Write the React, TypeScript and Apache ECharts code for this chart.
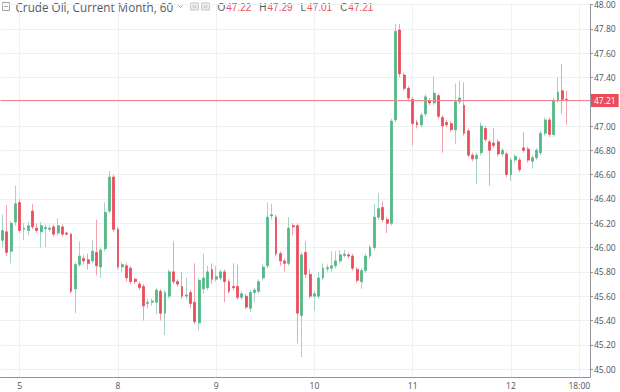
import React, { useEffect, useRef } from 'react';
import * as echarts from 'echarts';

// Hourly candles (open, close, low, high)
const opens = [
  46.06, 46.13, 45.97, 46.21, 46.37, 46.15, 46.14, 46.30, 46.16, 46.13,
  46.155, 46.15, 46.17, 46.12, 46.17, 46.12, 46.11, 45.66, 45.86, 45.91,
  45.90, 45.89, 45.96, 45.84, 45.99, 46.30, 46.58, 46.15, 45.84, 45.85,
  45.83, 45.74, 45.70, 45.68,
  45.54, 45.55, 45.55, 45.64, 45.46, 45.60, 45.80, 45.72, 45.68, 45.60,
  45.63, 45.55, 45.38, 45.66, 45.67, 45.82, 45.74, 45.75, 45.80, 45.72,
  45.68, 45.68, 45.59, 45.60, 45.50, 45.63, 45.64, 45.75, 45.85, 46.26,
  46.25, 45.95, 45.89,
  45.87, 46.18, 46.18, 45.44, 45.96, 45.78, 45.60, 45.60, 45.75, 45.825,
  45.83, 45.85, 45.89, 45.935, 45.94, 45.93, 45.82, 45.72, 45.81, 45.93,
  46.00, 46.25, 46.33, 46.23, 46.20, 47.05, 47.79, 47.42, 47.31, 47.22,
  47.03, 47.01,
  47.10, 47.21, 47.19, 47.25, 47.07, 47.03, 47.02, 46.97, 47.20, 47.17,
  46.96, 46.76, 46.73, 46.78, 46.98, 46.87, 46.86, 46.87, 46.77, 46.77,
  46.60, 46.72, 46.72, 46.82, 46.81, 46.71, 46.74, 46.78, 46.94, 47.05,
  46.93, 47.21, 47.29, 47.22,
];
const closes = [
  46.14, 45.96, 46.20, 46.36, 46.14, 46.16, 46.18, 46.17, 46.14, 46.18,
  46.165, 46.16, 46.11, 46.18, 46.11, 46.11, 45.64, 45.86, 45.93, 45.89,
  45.87, 45.97, 45.85, 45.98, 46.29, 46.58, 46.15, 45.84, 45.86, 45.75,
  45.72, 45.72, 45.67, 45.52,
  45.55, 45.56, 45.65, 45.46, 45.63, 45.80, 45.72, 45.70, 45.60, 45.61,
  45.54, 45.39, 45.73, 45.75, 45.80, 45.74, 45.76, 45.80, 45.72, 45.64,
  45.67, 45.59, 45.62, 45.51, 45.63, 45.65, 45.72, 45.84, 46.25, 46.27,
  45.95, 45.89, 45.87,
  46.16, 46.17, 45.46, 45.94, 45.78, 45.60, 45.62, 45.75, 45.83, 45.835,
  45.85, 45.89, 45.94, 45.945, 45.93, 45.83, 45.73, 45.81, 45.93, 46.00,
  46.25, 46.32, 46.23, 46.20, 47.04, 47.78, 47.43, 47.31, 47.23, 47.02,
  47.01, 47.09,
  47.24, 47.19, 47.27, 47.08, 47.00, 47.01, 46.97, 47.20, 47.23, 46.94,
  46.76, 46.73, 46.76, 47.00, 46.89, 46.80, 46.84, 46.77, 46.80, 46.60,
  46.72, 46.75, 46.64, 46.80, 46.72, 46.74, 46.80, 46.94, 47.05, 46.93,
  47.21, 47.28, 47.22, 47.21,
];
const lows = [
  46.00, 45.93, 45.87, 46.18, 46.12, 46.06, 46.10, 46.15, 46.12, 46.00,
  46.00, 46.13, 46.09, 46.10, 46.09, 46.10, 45.62, 45.46, 45.84, 45.86,
  45.82, 45.87, 45.77, 45.75, 45.97, 46.28, 46.13, 45.82, 45.80, 45.72,
  45.70, 45.70, 45.65, 45.40,
  45.50, 45.52, 45.45, 45.40, 45.28, 45.58, 45.70, 45.68, 45.58, 45.57,
  45.50, 45.37, 45.32, 45.62, 45.65, 45.70, 45.72, 45.73, 45.55, 45.62,
  45.65, 45.57, 45.57, 45.49, 45.47, 45.55, 45.62, 45.73, 45.83, 46.23,
  45.93, 45.85, 45.80,
  45.85, 46.10, 45.21, 45.10, 45.75, 45.58, 45.48, 45.58, 45.73, 45.80,
  45.80, 45.83, 45.87, 45.92, 45.91, 45.81, 45.71, 45.66, 45.79, 45.91,
  45.98, 46.23, 46.21, 46.12, 46.18, 47.03, 47.40, 47.29, 47.21, 46.84,
  46.98, 46.99,
  47.08, 47.17, 47.17, 47.06, 46.78, 46.99, 46.95, 46.85, 47.18, 46.92,
  46.74, 46.71, 46.52, 46.76, 46.87, 46.51, 46.82, 46.75, 46.75, 46.58,
  46.55, 46.70, 46.62, 46.78, 46.70, 46.65, 46.72, 46.76, 46.92, 46.91,
  46.91, 47.19, 47.10, 47.01,
];
const highs = [
  46.27, 46.35, 46.22, 46.51, 46.40, 46.20, 46.21, 46.36, 46.20, 46.21,
  46.19, 46.18, 46.19, 46.24, 46.19, 46.13, 46.12, 45.88, 46.05, 45.94,
  45.95, 46.06, 46.23, 46.00, 46.37, 46.63, 46.60, 46.17, 45.88, 45.87,
  45.85, 45.75, 45.72, 45.70,
  45.58, 45.58, 45.67, 45.66, 45.65, 45.82, 46.05, 45.74, 45.80, 45.75,
  45.65, 45.87, 45.75, 45.95, 45.85, 45.87, 45.85, 45.82, 45.82, 45.74,
  45.87, 45.86, 45.64, 45.62, 45.65, 45.67, 45.74, 45.86, 46.37, 46.36,
  46.27, 45.97, 45.91,
  46.25, 46.20, 46.20, 45.96, 46.05, 45.82, 45.64, 45.80, 45.87, 45.86,
  45.97, 45.97, 45.98, 45.98, 45.96, 45.95, 45.84, 45.83, 45.95, 46.02,
  46.36, 46.45, 46.38, 46.25, 47.06, 47.84, 47.84, 47.44, 47.33, 47.24,
  47.05, 47.11,
  47.26, 47.23, 47.41, 47.27, 47.09, 47.05, 47.04, 47.35, 47.37, 47.36,
  46.98, 46.78, 46.78, 47.03, 47.00, 46.89, 46.98, 46.89, 46.82, 46.79,
  46.74, 46.77, 46.74, 46.95, 46.83, 46.76, 46.82, 46.96, 47.07, 47.07,
  47.23, 47.40, 47.51, 47.29,
];

// Hourly slots on the time axis (candles fill the first ones)
const slotCount = 138;
const dayTickIndex = [4, 27, 50, 73, 96, 119, 135];
const dayTickLabels = ['5', '8', '9', '10', '11', '12', '18:00'];

const symbolName = 'Crude Oil, Current Month, 60';

const UP = '#53b987';
const DOWN = '#eb4d5c';
const UP_WICK = '#a6d3c6';
const DOWN_WICK = '#f3a3ab';
const GRID = '#eef1f4';
const AXIS = '#8f959c';
const LABEL = '#4c525e';

export default function App() {
  const ref = useRef<HTMLDivElement>(null);

  useEffect(() => {
    const chart = echarts.init(ref.current!, null, { renderer: 'svg' });
    const categories = Array.from({ length: slotCount }, (_, i) => String(i));
    const full = opens.map((o, i) => [o, closes[i], lows[i], highs[i]]);
    const bodies = opens.map((o, i) => [o, closes[i], Math.min(o, closes[i]), Math.max(o, closes[i])]);
    const last = opens.length - 1;
    const lastUp = closes[last] >= opens[last];
    const fmt = (v: number) => v.toFixed(2);

    chart.setOption({
      animation: false,
      backgroundColor: '#ffffff',
      textStyle: { fontFamily: '"Open Sans", sans-serif' },
      grid: { left: 0.5, right: 30, top: 1, bottom: 15 },
      xAxis: {
        type: 'category',
        data: categories,
        boundaryGap: true,
        axisLine: { show: true, lineStyle: { color: AXIS, width: 1 } },
        axisTick: { show: false },
        splitLine: { show: false },
        axisLabel: {
          interval: (index: number) => dayTickIndex.includes(index),
          formatter: (_v: string, index: number) => {
            const k = dayTickIndex.indexOf(index);
            return k >= 0 ? dayTickLabels[k] : '';
          },
          color: LABEL,
          fontSize: 8.5,
          margin: 4,
        },
      },
      yAxis: {
        type: 'value',
        position: 'right',
        min: 44.935,
        max: 48,
        splitNumber: 15,
        minInterval: 0.2,
        maxInterval: 0.2,
        axisLine: { show: true, lineStyle: { color: AXIS, width: 1 } },
        axisTick: { show: true, length: 3, lineStyle: { color: AXIS } },
        axisLabel: {
          color: LABEL,
          fontSize: 8.5,
          margin: 4,
          showMinLabel: false,
          formatter: (v: number) => fmt(v),
        },
        splitLine: { show: true, lineStyle: { color: GRID, width: 1 } },
      },
      series: [
        {
          type: 'candlestick',
          name: 'wicks',
          data: full,
          clip: false,
          barWidth: 0.4,
          barMinWidth: 0,
          itemStyle: {
            color: UP_WICK,
            color0: DOWN_WICK,
            borderColor: UP_WICK,
            borderColor0: DOWN_WICK,
            borderWidth: 1,
          },
          markLine: {
            silent: true,
            z: 1,
            symbol: ['none', 'none'],
            label: { show: false },
            lineStyle: { color: GRID, width: 1, type: 'solid' },
            data: dayTickIndex.map((i) => ({ xAxis: categories[i] })),
          },
        },
        {
          type: 'candlestick',
          name: 'bodies',
          data: bodies,
          clip: false,
          barWidth: 2.4,
          itemStyle: {
            color: UP,
            color0: DOWN,
            borderColor: UP,
            borderColor0: DOWN,
            borderWidth: 0.8,
          },
          markLine: {
            silent: true,
            symbol: ['none', 'none'],
            lineStyle: { color: '#f08892', width: 1, type: 'solid' },
            label: {
              show: true,
              position: 'end',
              distance: 1,
              formatter: () => fmt(closes[last]),
              color: '#ffffff',
              fontSize: 8.5,
              backgroundColor: lastUp ? UP : DOWN,
              padding: [2, 3, 2, 3],
            },
            data: [{ yAxis: closes[last] }],
          },
        },
      ],
      graphic: [
        {
          type: 'group',
          left: 0,
          top: 0,
          children: [
            { type: 'rect', shape: { x: 5, y: 10, width: 7, height: 8 }, style: { fill: 'none', stroke: '#a3a3a3', lineWidth: 1 } },
            { type: 'line', shape: { x1: 6.5, y1: 14, x2: 10.5, y2: 14 }, style: { stroke: '#a3a3a3', lineWidth: 1 } },
            {
              type: 'text',
              x: 18,
              y: 14.5,
              style: {
                text: symbolName,
                fill: '#555a62',
                fontSize: 11.7,
                fontFamily: '"Open Sans", sans-serif',
                verticalAlign: 'middle',
              },
            },
            { type: 'polyline', shape: { points: [[181, 13], [183, 15], [185, 13]] }, style: { stroke: '#9a9a9a', lineWidth: 1, fill: 'none' } },
            { type: 'rect', shape: { x: 193, y: 10.5, width: 8, height: 7 }, style: { fill: '#ececec', stroke: '#c9c9c9', lineWidth: 1 } },
            { type: 'rect', shape: { x: 195, y: 12.5, width: 4, height: 3 }, style: { fill: '#d6d6d6' } },
            { type: 'rect', shape: { x: 204, y: 10.5, width: 8, height: 7 }, style: { fill: '#ececec', stroke: '#c9c9c9', lineWidth: 1 } },
            { type: 'rect', shape: { x: 206, y: 12.5, width: 4, height: 3 }, style: { fill: '#d6d6d6' } },
            {
              type: 'text',
              x: 220,
              y: 15,
              style: {
                text:
                  `{l|O}{v|${fmt(opens[last])}}{l|H}{v|${fmt(highs[last])}}` +
                  `{l|L}{v|${fmt(lows[last])}}{l|C}{v|${fmt(closes[last])}}`,
                verticalAlign: 'middle',
                fontFamily: '"Open Sans", sans-serif',
                rich: {
                  l: { fill: '#555a62', fontSize: 10, padding: [0, 1, 0, 0] },
                  v: { fill: DOWN, fontSize: 10, padding: [0, 8, 0, 0] },
                },
              },
            },
          ],
        },
      ],
    });

    return () => chart.dispose();
  }, []);

  return (
    <div
      ref={ref}
      style={{ position: 'fixed', left: 0, top: 0, width: 620, height: 392, background: '#fff' }}
    />
  );
}
